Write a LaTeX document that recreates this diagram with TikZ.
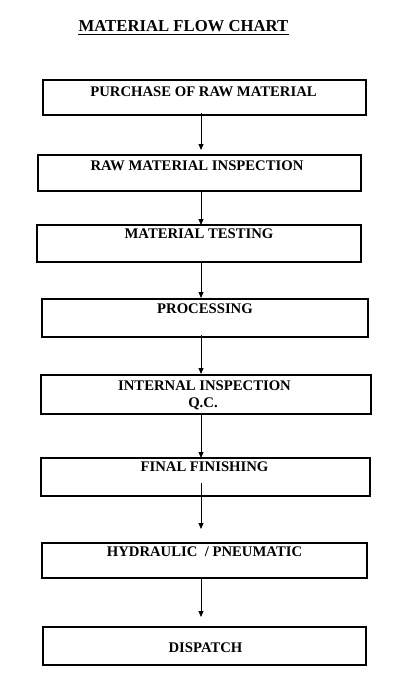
\documentclass[tikz,border=0pt]{standalone}
\usepackage{fontspec}
\setmainfont{Liberation Serif}
\usetikzlibrary{arrows.meta}
\tikzset{
  flowbox/.style={draw=black, line width=1.6pt, rectangle, inner sep=0pt, outer sep=0pt},
  boxtext/.style={inner sep=0pt, anchor=base, font=\fontsize{14.7}{17}\selectfont\bfseries},
  titletext/.style={inner sep=0pt, anchor=base, font=\fontsize{16.7}{20}\selectfont\bfseries},
  flowarrow/.style={draw=black, line width=0.9pt, -{Triangle[width=5pt,length=6pt]}}
}
\begin{document}
\begin{tikzpicture}[x=1pt,y=-1pt]
\useasboundingbox[fill=white] (0,0) rectangle (403,677);
% title
\node[titletext] (title) at (183.5,32) {MATERIAL FLOW CHART};
\draw[line width=1.3pt] ([yshift=-2.5pt]title.base west) -- ([yshift=-2.5pt]title.base east);
% boxes
\node[flowbox, minimum width=323pt, minimum height=35pt] (b1) at (204.5,97.5) {};
\node[flowbox, minimum width=323pt, minimum height=36pt] (b2) at (199.5,173) {};
\node[flowbox, minimum width=324pt, minimum height=37pt] (b3) at (199,243.5) {};
\node[flowbox, minimum width=326pt, minimum height=38pt] (b4) at (205,318) {};
\node[flowbox, minimum width=330pt, minimum height=39pt] (b5) at (206,394.5) {};
\node[flowbox, minimum width=329pt, minimum height=38pt] (b6) at (205.5,477) {};
\node[flowbox, minimum width=325pt, minimum height=35pt] (b7) at (204.5,560.5) {};
\node[flowbox, minimum width=323pt, minimum height=38pt] (b8) at (204.5,646) {};
% texts
\node[boxtext] (t1) at (203.5,96) {PURCHASE OF RAW MATERIAL};
\node[boxtext] (t2) at (197,170) {RAW MATERIAL INSPECTION};
\node[boxtext] (t3) at (199,238) {MATERIAL TESTING};
\node[boxtext] (t4) at (205,313) {PROCESSING};
\node[boxtext] (t5a) at (204.5,390) {INTERNAL INSPECTION};
\node[boxtext] (t5b) at (203,407) {Q.C.};
\node[boxtext] (t6) at (204.5,471) {FINAL FINISHING};
\node[boxtext] (t7) at (204.5,556) {HYDRAULIC\ \ / PNEUMATIC};
\node[boxtext] (t8) at (205.5,652) {DISPATCH};
% arrows
\coordinate (ax) at (201,0);
\draw[flowarrow, shorten <=-2pt, shorten >=5pt] (b1.south -| ax) -- (b2.north -| ax);
\draw[flowarrow] (b2.south -| ax) -- (b3.north -| ax);
\draw[flowarrow, shorten <=1pt, shorten >=1pt] (b3.south -| ax) -- (b4.north -| ax);
\draw[flowarrow, shorten <=-2pt, shorten >=1pt] (b4.south -| ax) -- (b5.north -| ax);
\draw[flowarrow, shorten <=-1pt] (b5.south -| ax) -- (b6.north -| ax);
\draw[flowarrow, shorten <=-13pt, shorten >=14pt] (b6.south -| ax) -- (b7.north -| ax);
\draw[flowarrow, shorten <=1pt, shorten >=10pt] (b7.south -| ax) -- (b8.north -| ax);
\end{tikzpicture}
\end{document}
